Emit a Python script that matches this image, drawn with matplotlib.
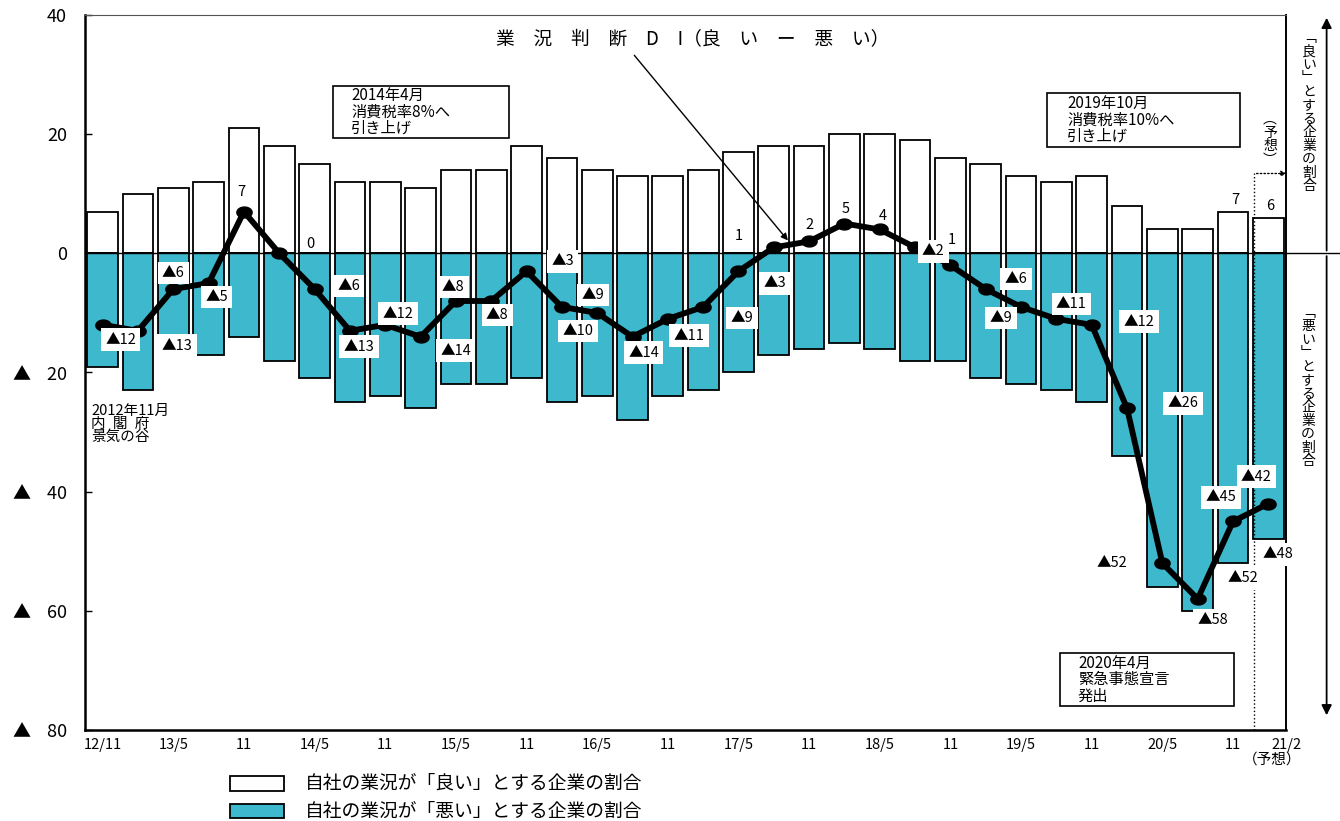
import numpy as np
import matplotlib.pyplot as plt
from matplotlib.path import Path
from matplotlib.patches import Rectangle

plt.rcParams['font.family'] = ['Noto Sans CJK JP', 'DejaVu Sans']

# 調査時点（四半期）
periods = ['12/11', '13/2', '13/5', '13/8', '13/11', '14/2', '14/5', '14/8', '14/11',
           '15/2', '15/5', '15/8', '15/11', '16/2', '16/5', '16/8', '16/11',
           '17/2', '17/5', '17/8', '17/11', '18/2', '18/5', '18/8', '18/11',
           '19/2', '19/5', '19/8', '19/11', '20/2', '20/5', '20/8', '20/11', '21/2']

# 「良い」とする企業の割合（%）
good = [7, 10, 11, 12, 21, 18, 15, 12, 12, 11, 14, 14, 18, 16, 14, 13, 13,
        14, 17, 18, 18, 20, 20, 19, 16, 15, 13, 12, 13, 8, 4, 4, 7, 6]
# 「悪い」とする企業の割合（%）
bad = [19, 23, 17, 17, 14, 18, 21, 25, 24, 26, 22, 22, 21, 25, 24, 28, 24,
       23, 20, 17, 16, 15, 16, 18, 18, 21, 22, 23, 25, 34, 56, 60, 52, 48]
# 業況判断DI（良い－悪い）
di = [-12, -13, -6, -5, 7, 0, -6, -13, -12, -14, -8, -8, -3, -9, -10, -14, -11,
      -9, -3, 1, 2, 5, 4, 1, -2, -6, -9, -11, -12, -26, -52, -58, -45, -42]

tick_pos = [0, 2, 4, 6, 8, 10, 12, 14, 16, 18, 20, 22, 24, 26, 28, 30, 32, 33.5]
tick_labels = ['12/11', '13/5', '11', '14/5', '11', '15/5', '11', '16/5', '11',
               '17/5', '11', '18/5', '11', '19/5', '11', '20/5', '11', '21/2']

# DIラベルの位置（点からのずれ, ピクセル）
di_offsets = [(18, -15), (39, -15), (0, 16), (8, -14), (-3, 20), (31, 9), (34, 3),
              (9, -16), (13, 11), (35, -14), (-3, 14), (6, -14), (36, 10), (31, 12),
              (-19, -18), (11, -16), (21, -17), (39, -11), (36, -12), (-35, 11),
              (0, 16), (1, 15), (3, 14), (37, 7), (-17, 14), (30, 10), (-20, -11),
              (15, 15), (47, 3), (56, 5), (-50, 0), (15, -21), (-12, 24), (-12, 27)]

W, H = 1340, 821
fig = plt.figure(figsize=(W / 100, H / 100), dpi=100)


def fx(px):
    return px / W


def fy(py):
    return 1 - py / H


ax = fig.add_axes([fx(85), fy(730), 1201 / W, 715 / H])
x = np.arange(len(periods))
blue = '#3eb8cc'

ax.bar(x, good, width=0.87, color='white', edgecolor='black', lw=1.3, zorder=2)
ax.bar(x, [-b for b in bad], width=0.87, color=blue, edgecolor='black', lw=1.3, zorder=2)
ax.plot([-0.5, 35.2], [0, 0], color='black', lw=1, zorder=3, clip_on=False)

# 楕円マーカー
t = np.linspace(0, 2 * np.pi, 41)
ellipse = Path(np.column_stack([1.4 * np.cos(t), np.sin(t)]))
ax.plot(x, di, color='black', lw=4.2, marker=ellipse, ms=11, zorder=4,
        solid_joinstyle='round')

lab_font = 10.5
for i, v in enumerate(di):
    if v < 0:
        ax.annotate('▲' + str(-v), (i, v), xytext=di_offsets[i], textcoords='offset pixels',
                    ha='center', va='center', fontsize=lab_font, zorder=5,
                    bbox=dict(boxstyle='square,pad=0.3', fc='white', ec='none'))
    else:
        ax.annotate(str(v), (i, v), xytext=di_offsets[i], textcoords='offset pixels',
                    ha='center', va='center', fontsize=lab_font, zorder=5)

# 直近2期の棒ラベル
for i in [32, 33]:
    ax.annotate(str(good[i]), (i, good[i]), xytext=(2, 12), textcoords='offset pixels',
                ha='center', va='center', fontsize=lab_font, zorder=5)
    ax.annotate('▲' + str(bad[i]), (i, -bad[i]), xytext=(10, -15), textcoords='offset pixels',
                ha='center', va='center', fontsize=lab_font, zorder=5,
                bbox=dict(boxstyle='square,pad=0.3', fc='white', ec='none'))

ax.set_xlim(-0.5, 33.5)
ax.set_ylim(-80, 40)
yt = [40, 20, 0, -20, -40, -60, -80]
ax.set_yticks(yt)
ax.set_yticklabels([str(v) if v >= 0 else '▲    ' + str(-v) for v in yt], fontsize=13)
ax.tick_params(axis='y', direction='in', length=5, width=1, pad=13)
ax.set_xticks(tick_pos)
ax.set_xticklabels(tick_labels, fontsize=10.5)
ax.tick_params(axis='x', length=0, pad=6)
for s in ['left', 'bottom']:
    ax.spines[s].set_linewidth(1.8)
ax.spines['top'].set_color('#555555')
ax.spines['right'].set_linewidth(1.4)

# 予想期間
ax.plot([32.59, 32.59], [-80, 13.4], ls=':', color='black', lw=1, zorder=3)
ax.annotate('', xy=(33.6, 13.4), xytext=(32.59, 13.4),
            arrowprops=dict(arrowstyle='-|>', ls=':', lw=1, color='black', mutation_scale=8),
            annotation_clip=False)
ax.text(33.05, 14.5, '︵\n予\n想\n︶', ha='center', va='bottom', fontsize=10,
        linespacing=0.95, zorder=5)

# 右側の矢印
ax.annotate('', xy=(34.65, 40), xytext=(34.65, 0),
            arrowprops=dict(arrowstyle='-|>', lw=1.3, color='black', mutation_scale=15),
            annotation_clip=False)
ax.annotate('', xy=(34.65, -78), xytext=(34.65, 0),
            arrowprops=dict(arrowstyle='-|>', lw=1.3, color='black', mutation_scale=15),
            annotation_clip=False)
fig.text(fx(1309), fy(112), '\n'.join('﹁良い﹂とする企業の割合'), ha='center', va='center',
         fontsize=10, linespacing=0.95)
fig.text(fx(1308), fy(387), '\n'.join('﹁悪い﹂とする企業の割合'), ha='center', va='center',
         fontsize=10, linespacing=0.95)

# 業況判断DIの注記
sp = '\u3000'
title = sp.join(['業', '況', '判', '断', 'D', 'I（良', 'い', 'ー', '悪', 'い）'])
fig.text(fx(693), fy(40), title, ha='center', va='center', fontsize=13.5)
ax.annotate('', xy=(19.45, 1.8), xytext=(15.0, 33.6),
            arrowprops=dict(arrowstyle='-|>', lw=1, color='black', mutation_scale=10))

# 注記ボックス
boxes = [((333, 86, 509, 138), '2014年4月\n消費税率8%へ\n引き上げ', 351),
         ((1047, 93, 1240, 147), '2019年10月\n消費税率10%へ\n引き上げ', 1067),
         ((1060, 653, 1234, 706), '2020年4月\n緊急事態宣言\n発出', 1078)]
for (x0, y0, x1, y1), txt, tx in boxes:
    fig.add_artist(Rectangle((fx(x0), fy(y1)), (x1 - x0) / W, (y1 - y0) / H,
                             transform=fig.transFigure, fc='white', ec='black', lw=1.2, zorder=6))
    fig.text(fx(tx), fy((y0 + y1) / 2), txt, ha='left', va='center', fontsize=11,
             linespacing=0.95, zorder=7)

fig.text(fx(91), fy(404), '2012年11月\n内\u2002閣\u2002府\n景気の谷', ha='left', va='top',
         fontsize=10.5, linespacing=0.9)

fig.text(fx(1272), fy(760), '（予想）', ha='center', va='center', fontsize=10.5)

# 凡例
fig.add_artist(Rectangle((fx(230), fy(791)), 54 / W, 15 / H, transform=fig.transFigure,
                         fc='white', ec='black', lw=1.3))
fig.add_artist(Rectangle((fx(230), fy(818)), 54 / W, 14 / H, transform=fig.transFigure,
                         fc=blue, ec='black', lw=1.3))
fig.text(fx(305), fy(783), '自社の業況が「良い」とする企業の割合', ha='left', va='center', fontsize=13.5)
fig.text(fx(305), fy(811), '自社の業況が「悪い」とする企業の割合', ha='left', va='center', fontsize=13.5)

fig.savefig('out.png', dpi=100)
